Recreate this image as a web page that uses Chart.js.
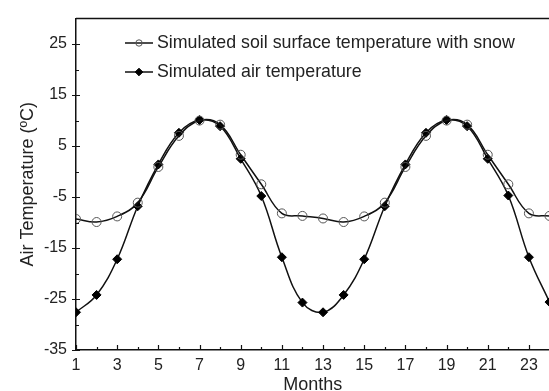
<!DOCTYPE html>
<html>
<head>
<meta charset="utf-8">
<title>Air temperature</title>
<script src="https://cdn.jsdelivr.net/npm/chart.js@4.4.1/dist/chart.umd.min.js"></script>
<style>
  html, body { margin: 0; padding: 0; background: #fff; overflow: hidden; }
  canvas { display: block; }
</style>
</head>
<body>
<canvas id="myChart" width="555" height="391"></canvas>
<script>
const months = [1, 2, 3, 4, 5, 6, 7, 8, 9, 10, 11, 12, 13, 14, 15, 16, 17, 18, 19, 20, 21, 22, 23, 24];
const soilTemp = [-9.3, -9.9, -8.8, -6.1, 0.9, 7.0, 10.0, 9.2, 3.3, -2.5, -8.2, -8.7,
                  -9.2, -9.9, -8.8, -6.1, 0.9, 7.0, 10.0, 9.2, 3.3, -2.5, -8.2, -8.7];
const airTemp = [-27.6, -24.2, -17.2, -6.8, 1.4, 7.6, 10.1, 8.9, 2.5, -4.8, -16.8, -25.7,
                 -27.6, -24.2, -17.2, -6.8, 1.4, 7.6, 10.1, 8.9, 2.5, -4.7, -16.8, -25.6];
const xTicks = [1, 3, 5, 7, 9, 11, 13, 15, 17, 19, 21, 23];
const yTicks = [-35, -25, -15, -5, 5, 15, 25];

const FONT = 'Arial, "Liberation Sans", sans-serif';
const TEXT = '#222';

// tick marks, minor ticks, top frame line and the inline legend
const framePlugin = {
  id: 'frame',
  afterDraw(chart) {
    const ctx = chart.ctx;
    const x = chart.scales.x, y = chart.scales.y;
    const area = chart.chartArea;
    ctx.save();
    ctx.strokeStyle = '#111';
    ctx.lineWidth = 1.5;
    ctx.beginPath();
    ctx.moveTo(area.left, area.top);
    ctx.lineTo(chart.width, area.top);
    ctx.stroke();

    ctx.lineWidth = 1.2;
    ctx.beginPath();
    yTicks.forEach(v => {
      const py = Math.round(y.getPixelForValue(v)) + 0.5;
      ctx.moveTo(area.left - 4, py);
      ctx.lineTo(area.left + 4, py);
      const mv = v + 5;
      if (mv < y.max) {
        const my = Math.round(y.getPixelForValue(mv)) + 0.5;
        ctx.moveTo(area.left, my);
        ctx.lineTo(area.left + 3, my);
      }
    });
    xTicks.forEach(v => {
      const px = Math.round(x.getPixelForValue(v)) + 0.5;
      ctx.moveTo(px, area.bottom);
      ctx.lineTo(px, area.bottom - 5);
      const mv = v + 1;
      if (mv <= x.max) {
        const mx = Math.round(x.getPixelForValue(mv)) + 0.5;
        ctx.moveTo(mx, area.bottom);
        ctx.lineTo(mx, area.bottom - 3);
      }
    });
    ctx.stroke();

    // legend
    ctx.font = '17.8px ' + FONT;
    ctx.textBaseline = 'middle';
    ctx.textAlign = 'left';
    chart.data.datasets.forEach((ds, i) => {
      const ly = 43 + i * 29;
      ctx.strokeStyle = ds.borderColor;
      ctx.lineWidth = 1.5;
      ctx.beginPath();
      ctx.moveTo(125, ly);
      ctx.lineTo(153, ly);
      ctx.stroke();
      ctx.fillStyle = ds.pointBackgroundColor;
      ctx.strokeStyle = ds.pointBorderColor;
      ctx.lineWidth = 1;
      Chart.helpers.drawPoint(ctx, {
        pointStyle: ds.pointStyle,
        radius: i === 0 ? 3.2 : 3.8,
        borderWidth: 1
      }, 139, ly);
      ctx.fillStyle = TEXT;
      ctx.fillText(ds.label, 157, ly);
    });
    ctx.restore();
  }
};

const data = {
  labels: months,
  datasets: [
    {
      label: 'Simulated soil surface temperature with snow',
      data: months.map((m, i) => ({ x: m, y: soilTemp[i] })),
      borderColor: '#111',
      borderWidth: 1.5,
      tension: 0.4,
      pointStyle: 'circle',
      pointRadius: 4.5,
      pointBorderWidth: 1,
      pointBorderColor: '#555',
      pointBackgroundColor: 'rgba(0,0,0,0)'
    },
    {
      label: 'Simulated air temperature',
      data: months.map((m, i) => ({ x: m, y: airTemp[i] })),
      borderColor: '#111',
      borderWidth: 1.5,
      tension: 0.4,
      pointStyle: 'rectRot',
      pointRadius: 4.5,
      pointBorderWidth: 1,
      pointBorderColor: '#000',
      pointBackgroundColor: '#000'
    }
  ]
};

const config = {
  type: 'line',
  data: data,
  options: {
    responsive: false,
    animation: false,
    devicePixelRatio: 1,
    layout: { padding: { top: 14, right: 0, left: 0, bottom: 0 } },
    plugins: {
      legend: { display: false },
      tooltip: { enabled: false }
    },
    scales: {
      x: {
        type: 'linear',
        min: 1,
        max: 24,
        afterBuildTicks: axis => { axis.ticks = xTicks.map(v => ({ value: v })); },
        afterFit: scale => { scale.height = 41; },
        grid: { display: false, drawTicks: false },
        border: { display: true, color: '#111', width: 1.5 },
        ticks: { autoSkip: false, maxRotation: 0, padding: 6, color: TEXT, font: { family: FONT, size: 16 } },
        title: {
          display: true,
          text: 'Months',
          color: TEXT,
          font: { family: FONT, size: 18 },
          padding: { top: 0, bottom: -5 }
        }
      },
      y: {
        min: -35,
        max: 30,
        afterBuildTicks: axis => { axis.ticks = yTicks.map(v => ({ value: v })); },
        afterFit: scale => { scale.width = 76; },
        grid: { display: false, drawTicks: false },
        border: { display: true, color: '#111', width: 1.5 },
        ticks: { padding: 9, color: TEXT, font: { family: FONT, size: 16 } },
        title: {
          display: true,
          text: 'Air Temperature (ºC)',
          color: TEXT,
          font: { family: FONT, size: 18 },
          padding: { top: 17, bottom: 0 }
        }
      }
    }
  },
  plugins: [framePlugin]
};

const myChart = new Chart(document.getElementById('myChart'), config);
</script>
</body>
</html>
